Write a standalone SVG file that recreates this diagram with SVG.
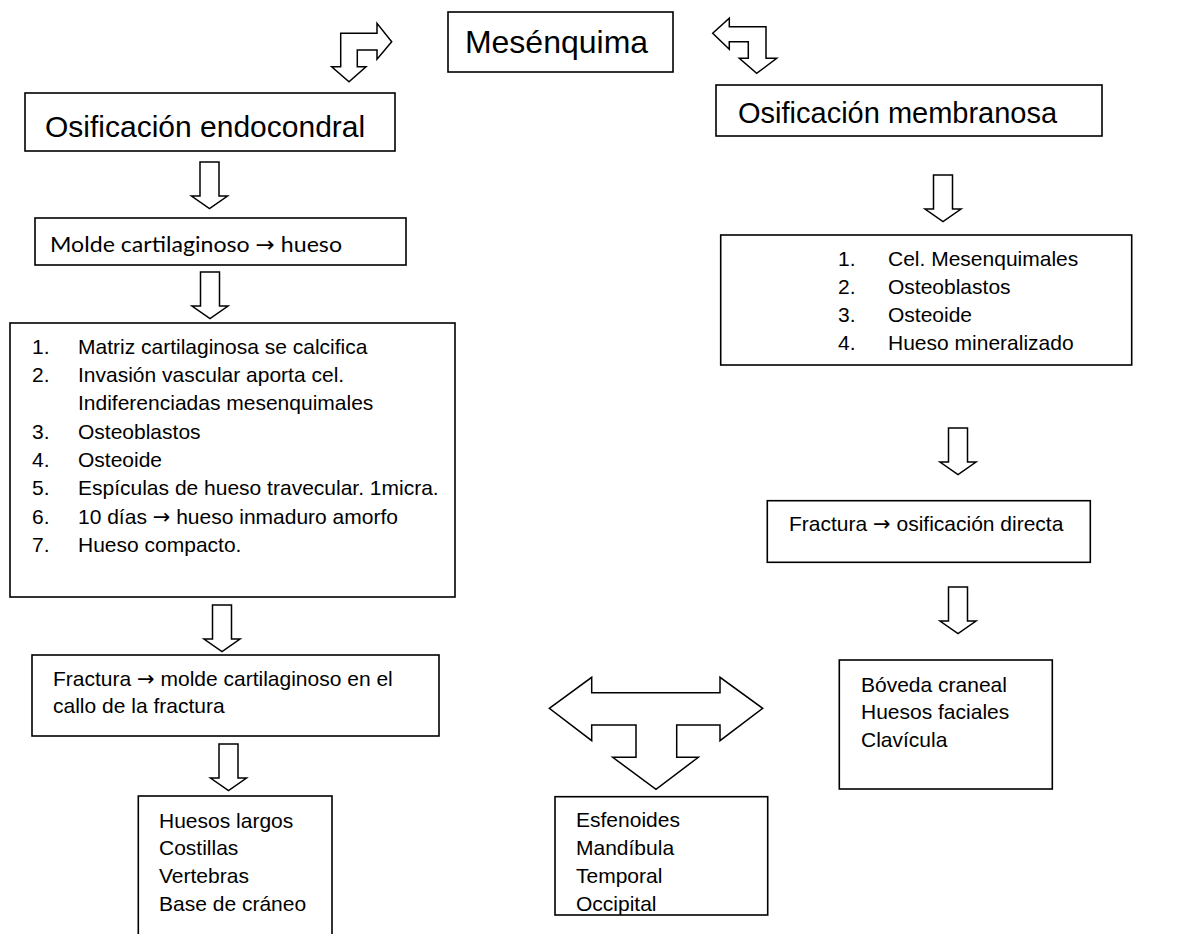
<svg xmlns="http://www.w3.org/2000/svg" xmlns:xlink="http://www.w3.org/1999/xlink" width="1189" height="934" viewBox="0 0 1189 934">
<style>
.box{fill:#fff;stroke:#000;stroke-width:1.6}
.arr{fill:#fff;stroke:#000;stroke-width:1.5;stroke-linejoin:miter}
.t{font-family:"Liberation Sans",Arial,sans-serif;fill:#000}
.h{font-size:30px}
.l{font-size:21px}
.c{font-family:Lato,"Liberation Sans",sans-serif;font-size:22px;fill:#000}
.ar{font-family:"DejaVu Sans",sans-serif}
</style>
<defs>
<path id="down" d="M-9.5,0 H9.5 V34 H18 L0,46.5 L-18,34 H-9.5 Z"/>
</defs>
<rect width="1189" height="934" fill="#fff"/>
<g id="connectors">
<path class="arr" d="M340.7,33.3 H377 V23.3 L391.7,41.7 L377,59.3 V50 H357.3 V66.7 H366 L349,81.7 L331.7,66.7 H340.7 Z"/>
<path class="arr" d="M729.3,26.7 H766 V58.3 H776.7 L756.7,73.3 L739.3,58.3 H748.3 V41.7 H729.3 V49.3 L712.7,33.3 L729.3,18.3 Z"/>
<use class="arr" xlink:href="#down" x="209.5" y="162"/>
<use class="arr" xlink:href="#down" x="210" y="272"/>
<use class="arr" xlink:href="#down" x="222" y="605"/>
<use class="arr" xlink:href="#down" x="228.5" y="744"/>
<use class="arr" xlink:href="#down" x="943" y="175"/>
<use class="arr" xlink:href="#down" x="958" y="428"/>
<use class="arr" xlink:href="#down" x="958" y="587"/>
<path class="arr" d="M549.3,708.3 L591.7,677.3 V692.7 H720 V677.3 L762.7,708.3 L720,740.7 V725 H676.7 V757.3 H698.3 L656,789.3 L612.7,757.3 H636 V725 H591.7 V740.7 Z"/>
</g>
<g id="mesenquima">
<rect class="box" x="448" y="12" width="225" height="60"/>
<text class="t" x="556.5" y="53" font-size="32" text-anchor="middle">Mesénquima</text>
</g>
<g id="endocondral">
<rect class="box" x="25" y="93" width="370" height="58"/>
<text class="t h" x="45" y="137">Osificación endocondral</text>
</g>
<g id="membranosa">
<rect class="box" x="716" y="85" width="386" height="51"/>
<text class="t" x="738" y="123" font-size="29">Osificación membranosa</text>
</g>
<g id="molde">
<rect class="box" x="35" y="218" width="371" height="47"/>
<text class="c" x="50" y="252" textLength="292" lengthAdjust="spacingAndGlyphs">Molde cartilaginoso <tspan class="ar">→</tspan> hueso</text>
</g>
<g id="lista-endocondral">
<rect class="box" x="10" y="323" width="445" height="274"/>
<g class="t l">
<text x="32" y="354">1.</text><text x="78" y="354">Matriz cartilaginosa se calcifica</text>
<text x="32" y="382">2.</text><text x="78" y="382">Invasión vascular aporta cel.</text>
<text x="78" y="410">Indiferenciadas mesenquimales</text>
<text x="32" y="439">3.</text><text x="78" y="439">Osteoblastos</text>
<text x="32" y="467">4.</text><text x="78" y="467">Osteoide</text>
<text x="32" y="495">5.</text><text x="78" y="495">Espículas de hueso travecular. 1micra.</text>
<text x="32" y="524">6.</text><text x="78" y="524">10 días <tspan class="ar">→</tspan> hueso inmaduro amorfo</text>
<text x="32" y="552">7.</text><text x="78" y="552">Hueso compacto.</text>
</g>
</g>
<g id="lista-membranosa">
<rect class="box" x="720.7" y="235" width="411" height="130"/>
<g class="t l">
<text x="838" y="266">1.</text><text x="888" y="266">Cel. Mesenquimales</text>
<text x="838" y="294">2.</text><text x="888" y="294">Osteoblastos</text>
<text x="838" y="322">3.</text><text x="888" y="322">Osteoide</text>
<text x="838" y="350">4.</text><text x="888" y="350">Hueso mineralizado</text>
</g>
</g>
<g id="fractura-endocondral">
<rect class="box" x="32" y="655" width="407" height="81"/>
<g class="t l">
<text x="53" y="686">Fractura <tspan class="ar">→</tspan> molde cartilaginoso en el</text>
<text x="53" y="713">callo de la fractura</text>
</g>
</g>
<g id="fractura-membranosa">
<rect class="box" x="767.3" y="500.7" width="323" height="61.6"/>
<text class="t l" x="789" y="531">Fractura <tspan class="ar">→</tspan> osificación directa</text>
</g>
<g id="huesos-endocondral">
<rect class="box" x="138.3" y="796" width="193.7" height="150"/>
<g class="t l">
<text x="159" y="828">Huesos largos</text>
<text x="159" y="855">Costillas</text>
<text x="159" y="883">Vertebras</text>
<text x="159" y="911">Base de cráneo</text>
</g>
</g>
<g id="huesos-mixtos">
<rect class="box" x="555" y="796.7" width="212.7" height="118.3"/>
<g class="t l">
<text x="576" y="827">Esfenoides</text>
<text x="576" y="855">Mandíbula</text>
<text x="576" y="883">Temporal</text>
<text x="576" y="911">Occipital</text>
</g>
</g>
<g id="huesos-membranosa">
<rect class="box" x="839.3" y="660" width="213" height="129"/>
<g class="t l">
<text x="861" y="692">Bóveda craneal</text>
<text x="861" y="719">Huesos faciales</text>
<text x="861" y="747">Clavícula</text>
</g>
</g>
</svg>
